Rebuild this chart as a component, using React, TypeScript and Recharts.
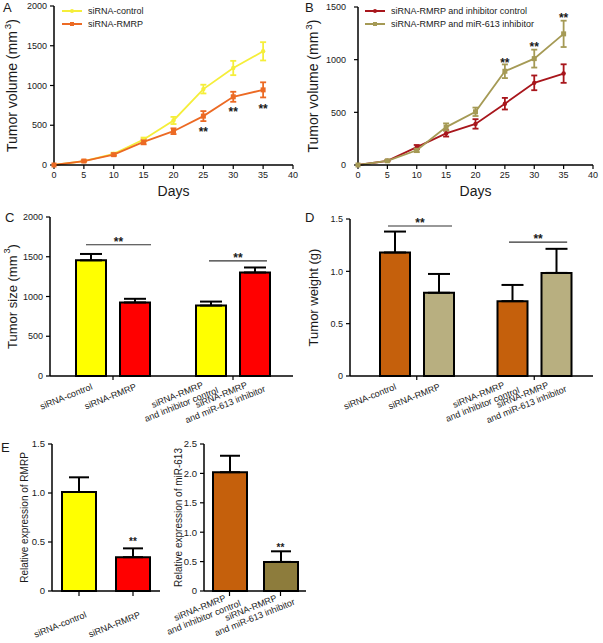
import React from 'react'
import {
  LineChart,
  Line,
  BarChart,
  Bar,
  Cell,
  XAxis,
  YAxis,
  ErrorBar,
  ReferenceDot,
  ReferenceLine,
  Legend,
  Label,
} from 'recharts'

const FONT = '"Liberation Sans", Arial, Helvetica, sans-serif'
const INK = '#1a1a1a'

// ---------------------------------------------------------------------------
// Data
// ---------------------------------------------------------------------------

// A / B — tumour growth curves
const days = [0, 5, 10, 15, 20, 25, 30, 35]
const dayTicks = [0, 5, 10, 15, 20, 25, 30, 35, 40]

const aControl = [0, 50, 140, 320, 560, 955, 1220, 1430]
const aControlSd = [0, 8, 15, 25, 45, 55, 90, 115]
const aRmrp = [0, 50, 130, 290, 425, 615, 858, 945]
const aRmrpSd = [0, 8, 15, 30, 36, 63, 63, 95]
const aStarDays = [25, 30, 35]
const aStarLevels = [458, 700, 745]

const bInhCtrl = [0, 40, 170, 300, 390, 582, 780, 868]
const bInhCtrlSd = [0, 5, 20, 30, 45, 55, 70, 88]
const bInh = [0, 40, 140, 360, 505, 890, 1010, 1245]
const bInhSd = [0, 5, 18, 35, 40, 65, 85, 125]
const bStarDays = [25, 30, 35]
const bStarLevels = [995, 1150, 1420]

// C / D — end-point bars, two groups of two
const groups = ['g1', 'g2']
const groupLabels = [
  ['siRNA-control', 'siRNA-RMRP'],
  ['siRNA-RMRP\nand inhibitor control', 'siRNA-RMRP\nand miR-613 inhibitor'],
]

const cFirst = [1455, 886]
const cFirstSd = [80, 50]
const cSecond = [925, 1302]
const cSecondSd = [46, 63]
// bracket ends as a fraction of the x axis (0 = left, 1 = right)
const cBrackets = [
  { x1: 0.1375, x2: 0.4085, y: 1651 },
  { x1: 0.65, x2: 0.8915, y: 1449 },
]

const dFirst = [1.18, 0.715]
const dFirstSd = [0.2, 0.155]
const dSecond = [0.795, 0.985]
const dSecondSd = [0.18, 0.23]
const dBrackets = [
  { x1: 0.1275, x2: 0.4, y: 1.433 },
  { x1: 0.6425, x2: 0.89, y: 1.28 },
]

// E — qPCR
const eLeftLabels = ['siRNA-control', 'siRNA-RMRP']
const eRmrp = [1.01, 0.345]
const eRmrpSd = [0.15, 0.09]
const eRmrpStar = 0.53

const eRightLabels = ['siRNA-RMRP\nand inhibitor control', 'siRNA-RMRP\nand miR-613 inhibitor']
const eMir = [2.02, 0.495]
const eMirSd = [0.28, 0.18]
const eMirStar = 0.78

// ---------------------------------------------------------------------------
// Shared bits
// ---------------------------------------------------------------------------

const AXIS_LINE = { stroke: '#000', strokeWidth: 1.5 }
const TICK_LINE = { stroke: '#000', strokeWidth: 1.2 }
const tickText = (fs: number) => ({ fill: INK, fontSize: fs, fontFamily: FONT })
const fmt1 = (v: number) => (v === 0 ? '0' : v.toFixed(1))

function VTitle({ x, y, fs, text, sup }: { x: number; y: number; fs: number; text: string; sup?: boolean }) {
  return (
    <text
      x={x}
      y={y}
      transform={`rotate(-90 ${x} ${y})`}
      textAnchor="middle"
      dominantBaseline="central"
      fontSize={fs}
      fontFamily={FONT}
      fill={INK}
    >
      {text}
      {sup ? (
        <>
          <tspan fontSize={fs * 0.7} dx={2} dy={-fs * 0.38}>
            3
          </tspan>
          <tspan dy={fs * 0.38}>)</tspan>
        </>
      ) : null}
    </text>
  )
}

const starShape = (fs: number, lift: number) => (p: any) => (
  <text
    x={p.cx}
    y={p.cy - lift}
    dy={fs * 0.58}
    textAnchor="middle"
    fontSize={fs}
    fontWeight="bold"
    fontFamily={FONT}
    fill={INK}
  >
    **
  </text>
)

const ANGLE = -22
const SIN = Math.sin((-ANGLE * Math.PI) / 180)
const COS = Math.cos((-ANGLE * Math.PI) / 180)

// rotated category label; one-line labels end near the bar, two-line labels are centred blocks
function RotLabel({
  cx,
  axisY,
  text,
  fs,
  single,
  double,
}: {
  cx: number
  axisY: number
  text: string
  fs: number
  single: [number, number]
  double: [number, number]
}) {
  const lines = text.split('\n')
  if (lines.length === 1) {
    return (
      <text
        transform={`translate(${cx + single[0]},${axisY + single[1]}) rotate(${ANGLE})`}
        textAnchor="end"
        fontSize={fs}
        fontFamily={FONT}
        fill={INK}
      >
        {text}
      </text>
    )
  }
  const w = Math.max(...lines.map((l) => l.length)) * fs * 0.43
  const lh = fs * 1.15
  const tx = cx + double[0] - lh * SIN
  const ty = axisY + double[1] - lh * COS
  return (
    <g transform={`translate(${tx},${ty}) rotate(${ANGLE})`}>
      {lines.map((l, i) => (
        <text key={i} x={-w / 2} y={i * lh} textAnchor="middle" fontSize={fs} fontFamily={FONT} fill={INK}>
          {l}
        </text>
      ))}
    </g>
  )
}

function makeTick(
  labels: string[][],
  spread: number,
  tickSize: number,
  single: [number, number],
  double: [number, number],
) {
  return (props: any) => {
    const { x, y, index } = props
    const names = labels[index] || []
    const axisY = y - tickSize
    return (
      <g>
        {names.map((name, j) => {
          const cx = names.length === 1 ? x : x + (j === 0 ? -spread : spread)
          return (
            <RotLabel key={j} cx={cx} axisY={axisY} text={name} fs={9} single={single} double={double} />
          )
        })}
      </g>
    )
  }
}

interface Series {
  key: string
  sdKey: string
  name: string
  color: string
  square: boolean
}

// legend drawn in series order (recharts sorts the payload by name otherwise)
function SeriesLegend({ items }: { items: Series[] }) {
  return (
    <div style={{ fontFamily: FONT, fontSize: 9, color: INK }}>
      {items.map((s) => (
        <div key={s.key} style={{ display: 'flex', alignItems: 'center', height: 12.5 }}>
          <svg width={20} height={8} style={{ marginRight: 6 }}>
            <line x1={0} y1={4} x2={20} y2={4} stroke={s.color} strokeWidth={2} />
            {s.square ? (
              <rect x={8} y={2} width={4} height={4} fill={s.color} />
            ) : (
              <circle cx={10} cy={4} r={2} fill={s.color} />
            )}
          </svg>
          {s.name}
        </div>
      ))}
    </div>
  )
}

const circleDot = (color: string) => (p: any) => (
  <circle key={`c${p.index}`} cx={p.cx} cy={p.cy} r={2.2} fill={color} />
)
const squareDot = (color: string) => (p: any) => (
  <rect key={`s${p.index}`} x={p.cx - 2.5} y={p.cy - 2.5} width={5} height={5} fill={color} />
)

// ---------------------------------------------------------------------------
// Growth curve panel (A, B)
// ---------------------------------------------------------------------------

function GrowthChart({
  width,
  margin,
  yWidth,
  yMax,
  yTicks,
  tickGap,
  data,
  series,
  starDays,
  starLevels,
  titleX,
  legendLeft,
}: {
  width: number
  margin: { top: number; right: number; left: number; bottom: number }
  yWidth: number
  yMax: number
  yTicks: number[]
  tickGap: number
  data: any[]
  series: Series[]
  starDays: number[]
  starLevels: number[]
  titleX: number
  legendLeft: number
}) {
  const height = 200
  const xh = 35
  const plotTop = margin.top
  const plotBottom = height - xh
  const plotCx = (yWidth + width - margin.right) / 2
  return (
    <LineChart width={width} height={height} data={data} margin={margin}>
      <XAxis
        dataKey="day"
        type="number"
        domain={[0, 40]}
        ticks={dayTicks}
        interval={0}
        height={xh}
        axisLine={AXIS_LINE}
        tickLine={TICK_LINE}
        tickSize={4}
        tickMargin={3}
        tick={tickText(9)}
      >
        <Label
          content={() => (
            <text x={plotCx} y={height - 4} textAnchor="middle" fontSize={14} fontFamily={FONT} fill={INK}>
              Days
            </text>
          )}
        />
      </XAxis>
      <YAxis
        type="number"
        domain={[0, yMax]}
        ticks={yTicks}
        interval={0}
        width={yWidth}
        axisLine={AXIS_LINE}
        tickLine={TICK_LINE}
        tickSize={4}
        tickMargin={tickGap}
        tick={tickText(9)}
      >
        <Label
          content={() => (
            <VTitle x={titleX} y={(plotTop + plotBottom) / 2} fs={14} text="Tumor volume (mm" sup />
          )}
        />
      </YAxis>
      <Legend
        layout="horizontal"
        verticalAlign="middle"
        align="center"
        content={<SeriesLegend items={series} />}
        wrapperStyle={{ left: legendLeft, top: 5, width: 'auto' }}
      />
      {series.map((s) => (
        <Line
          key={s.key}
          dataKey={s.key}
          name={s.name}
          stroke={s.color}
          strokeWidth={1.8}
          dot={s.square ? squareDot(s.color) : circleDot(s.color)}
          activeDot={false}
          isAnimationActive={false}
        >
          <ErrorBar dataKey={s.sdKey} direction="y" width={3} stroke={s.color} strokeWidth={1.8} />
        </Line>
      ))}
      {starDays.map((d, i) => (
        <ReferenceDot key={d} x={d} y={starLevels[i]} r={0} shape={starShape(12, 0)} ifOverflow="visible" />
      ))}
    </LineChart>
  )
}

// ---------------------------------------------------------------------------
// Paired bar panel (C, D)
// ---------------------------------------------------------------------------

function PairBars({
  width,
  margin,
  yWidth,
  yMax,
  yTicks,
  tickFmt,
  first,
  firstSd,
  second,
  secondSd,
  colors,
  brackets,
  title,
  titleX,
  padLeft,
}: {
  width: number
  margin: { top: number; right: number; left: number; bottom: number }
  yWidth: number
  yMax: number
  yTicks: number[]
  tickFmt?: (v: number) => string
  first: number[]
  firstSd: number[]
  second: number[]
  secondSd: number[]
  colors: [string, string]
  brackets: { x1: number; x2: number; y: number }[]
  title: string
  titleX: number
  padLeft: number
}) {
  const height = 230
  const xh = 54
  const data = groups.map((g, i) => ({
    group: g,
    a: first[i],
    aSd: [0, firstSd[i]],
    b: second[i],
    bSd: [0, secondSd[i]],
  }))
  const sup = title.endsWith('(mm')
  return (
    <BarChart width={width} height={height} data={data} margin={margin} barSize={30} barGap={14}>
      <XAxis
        dataKey="group"
        height={xh}
        padding={{ left: padLeft, right: 0 }}
        axisLine={AXIS_LINE}
        tickLine={TICK_LINE}
        tickSize={4}
        tickMargin={0}
        interval={0}
        tick={makeTick(groupLabels, 22, 4, [2, 13], [9, 16])}
      />
      <XAxis xAxisId="n" type="number" domain={[0, 1]} allowDataOverflow hide padding={{ left: padLeft, right: 0 }} />
      <YAxis
        type="number"
        domain={[0, yMax]}
        ticks={yTicks}
        interval={0}
        width={yWidth}
        axisLine={AXIS_LINE}
        tickLine={TICK_LINE}
        tickSize={4}
        tickMargin={3}
        tick={tickText(9)}
        tickFormatter={tickFmt}
      >
        <Label
          content={() => (
            <VTitle x={titleX} y={(margin.top + height - xh) / 2} fs={13} text={title} sup={sup} />
          )}
        />
      </YAxis>
      <Bar dataKey="a" fill={colors[0]} stroke="#000" strokeWidth={2} isAnimationActive={false}>
        <ErrorBar dataKey="aSd" direction="y" width={11} stroke="#000" strokeWidth={2} />
      </Bar>
      <Bar dataKey="b" fill={colors[1]} stroke="#000" strokeWidth={2} isAnimationActive={false}>
        <ErrorBar dataKey="bSd" direction="y" width={11} stroke="#000" strokeWidth={2} />
      </Bar>
      {brackets.map((br, i) => (
        <ReferenceLine
          key={`l${i}`}
          xAxisId="n"
          segment={[
            { x: br.x1, y: br.y },
            { x: br.x2, y: br.y },
          ]}
          stroke="#333"
          strokeWidth={1.2}
          ifOverflow="visible"
        />
      ))}
      {brackets.map((br, i) => (
        <ReferenceDot
          key={`s${i}`}
          xAxisId="n"
          x={(br.x1 + br.x2) / 2}
          y={br.y}
          r={0}
          shape={starShape(12, 6)}
          ifOverflow="visible"
        />
      ))}
    </BarChart>
  )
}

// ---------------------------------------------------------------------------
// Single bar panel (E)
// ---------------------------------------------------------------------------

function ExprBars({
  width,
  margin,
  yWidth,
  yMax,
  yTicks,
  labels,
  values,
  sds,
  colors,
  starLevel,
  title,
  titleX,
}: {
  width: number
  margin: { top: number; right: number; left: number; bottom: number }
  yWidth: number
  yMax: number
  yTicks: number[]
  labels: string[]
  values: number[]
  sds: number[]
  colors: string[]
  starLevel: number
  title: string
  titleX: number
}) {
  const height = 213
  const xh = 52
  const data = labels.map((l, i) => ({ name: l, v: values[i], sd: [0, sds[i]] }))
  return (
    <BarChart width={width} height={height} data={data} margin={margin} barSize={34}>
      <XAxis
        dataKey="name"
        height={xh}
        axisLine={AXIS_LINE}
        tickLine={TICK_LINE}
        tickSize={5}
        tickMargin={0}
        interval={0}
        tick={makeTick(labels.map((l) => [l]), 0, 5, [8, 26], [13, 14])}
      />
      <YAxis
        type="number"
        domain={[0, yMax]}
        ticks={yTicks}
        interval={0}
        width={yWidth}
        axisLine={AXIS_LINE}
        tickLine={TICK_LINE}
        tickSize={4}
        tickMargin={3}
        tick={tickText(9.5)}
        tickFormatter={fmt1}
      >
        <Label
          content={() => <VTitle x={titleX} y={(margin.top + height - xh) / 2} fs={10} text={title} />}
        />
      </YAxis>
      <Bar dataKey="v" stroke="#000" strokeWidth={2} isAnimationActive={false}>
        {data.map((d, i) => (
          <Cell key={d.name} fill={colors[i]} />
        ))}
        <ErrorBar dataKey="sd" direction="y" width={10} stroke="#000" strokeWidth={2} />
      </Bar>
      <ReferenceDot x={labels[1]} y={starLevel} r={0} shape={starShape(10, 0)} ifOverflow="visible" />
    </BarChart>
  )
}

// ---------------------------------------------------------------------------

function PanelLetter({ x, y, children }: { x: number; y: number; children: React.ReactNode }) {
  return (
    <div style={{ position: 'absolute', left: x, top: y, fontSize: 13, lineHeight: '13px', color: INK }}>
      {children}
    </div>
  )
}

function Place({ x, y, children }: { x: number; y: number; children: React.ReactNode }) {
  return <div style={{ position: 'absolute', left: x, top: y }}>{children}</div>
}

export default function App() {
  const aData = days.map((d, i) => ({
    day: d,
    ctrl: aControl[i],
    ctrlSd: aControlSd[i],
    rmrp: aRmrp[i],
    rmrpSd: aRmrpSd[i],
  }))
  const bData = days.map((d, i) => ({
    day: d,
    ic: bInhCtrl[i],
    icSd: bInhCtrlSd[i],
    inh: bInh[i],
    inhSd: bInhSd[i],
  }))

  return (
    <div
      style={{
        position: 'absolute',
        left: 0,
        top: 0,
        width: 603,
        height: 643,
        background: '#fff',
        fontFamily: FONT,
        overflow: 'hidden',
      }}
    >
      <Place x={0} y={0}>
        <GrowthChart
          width={300}
          margin={{ top: 6, right: 7, left: 0, bottom: 0 }}
          yWidth={54}
          yMax={2000}
          yTicks={[0, 500, 1000, 1500, 2000]}
          tickGap={3}
          data={aData}
          series={[
            { key: 'ctrl', sdKey: 'ctrlSd', name: 'siRNA-control', color: '#F5EE3A', square: false },
            { key: 'rmrp', sdKey: 'rmrpSd', name: 'siRNA-RMRP', color: '#EC6A24', square: true },
          ]}
          starDays={aStarDays}
          starLevels={aStarLevels}
          titleX={12}
          legendLeft={62}
        />
      </Place>
      <Place x={300} y={0}>
        <GrowthChart
          width={303}
          margin={{ top: 7, right: 10, left: 0, bottom: 0 }}
          yWidth={58}
          yMax={1500}
          yTicks={[0, 500, 1000, 1500]}
          tickGap={8}
          data={bData}
          series={[
            { key: 'ic', sdKey: 'icSd', name: 'siRNA-RMRP and inhibitor control', color: '#A8161C', square: false },
            { key: 'inh', sdKey: 'inhSd', name: 'siRNA-RMRP and miR-613 inhibitor', color: '#A59A55', square: true },
          ]}
          starDays={bStarDays}
          starLevels={bStarLevels}
          titleX={13}
          legendLeft={65}
        />
      </Place>
      <Place x={0} y={200}>
        <PairBars
          width={300}
          margin={{ top: 17, right: 7, left: 0, bottom: 0 }}
          yWidth={50}
          yMax={2000}
          yTicks={[0, 500, 1000, 1500, 2000]}
          first={cFirst}
          firstSd={cFirstSd}
          second={cSecond}
          secondSd={cSecondSd}
          colors={['#FFFF00', '#FF0000']}
          brackets={cBrackets}
          title="Tumor size (mm"
          titleX={12}
          padLeft={3}
        />
      </Place>
      <Place x={300} y={200}>
        <PairBars
          width={303}
          margin={{ top: 19, right: 10, left: 0, bottom: 0 }}
          yWidth={50}
          yMax={1.5}
          yTicks={[0, 0.5, 1, 1.5]}
          tickFmt={fmt1}
          first={dFirst}
          firstSd={dFirstSd}
          second={dSecond}
          secondSd={dSecondSd}
          colors={['#C5600C', '#B8AF80']}
          brackets={dBrackets}
          title="Tumor weight (g)"
          titleX={13}
          padLeft={8}
        />
      </Place>
      <Place x={0} y={430}>
        <ExprBars
          width={170}
          margin={{ top: 14, right: 10, left: 0, bottom: 0 }}
          yWidth={52}
          yMax={1.5}
          yTicks={[0, 0.5, 1, 1.5]}
          labels={eLeftLabels}
          values={eRmrp}
          sds={eRmrpSd}
          colors={['#FFFF00', '#FF0000']}
          starLevel={eRmrpStar}
          title="Relative expression of RMRP"
          titleX={24}
        />
      </Place>
      <Place x={165} y={430}>
        <ExprBars
          width={150}
          margin={{ top: 14, right: 9, left: 0, bottom: 0 }}
          yWidth={39}
          yMax={2.5}
          yTicks={[0, 0.5, 1, 1.5, 2, 2.5]}
          labels={eRightLabels}
          values={eMir}
          sds={eMirSd}
          colors={['#C5600C', '#8D7C3C']}
          starLevel={eMirStar}
          title="Relative expression of miR-613"
          titleX={13}
        />
      </Place>
      <PanelLetter x={3} y={1}>A</PanelLetter>
      <PanelLetter x={305} y={1}>B</PanelLetter>
      <PanelLetter x={5} y={211}>C</PanelLetter>
      <PanelLetter x={305} y={211}>D</PanelLetter>
      <PanelLetter x={1} y={441}>E</PanelLetter>
    </div>
  )
}
